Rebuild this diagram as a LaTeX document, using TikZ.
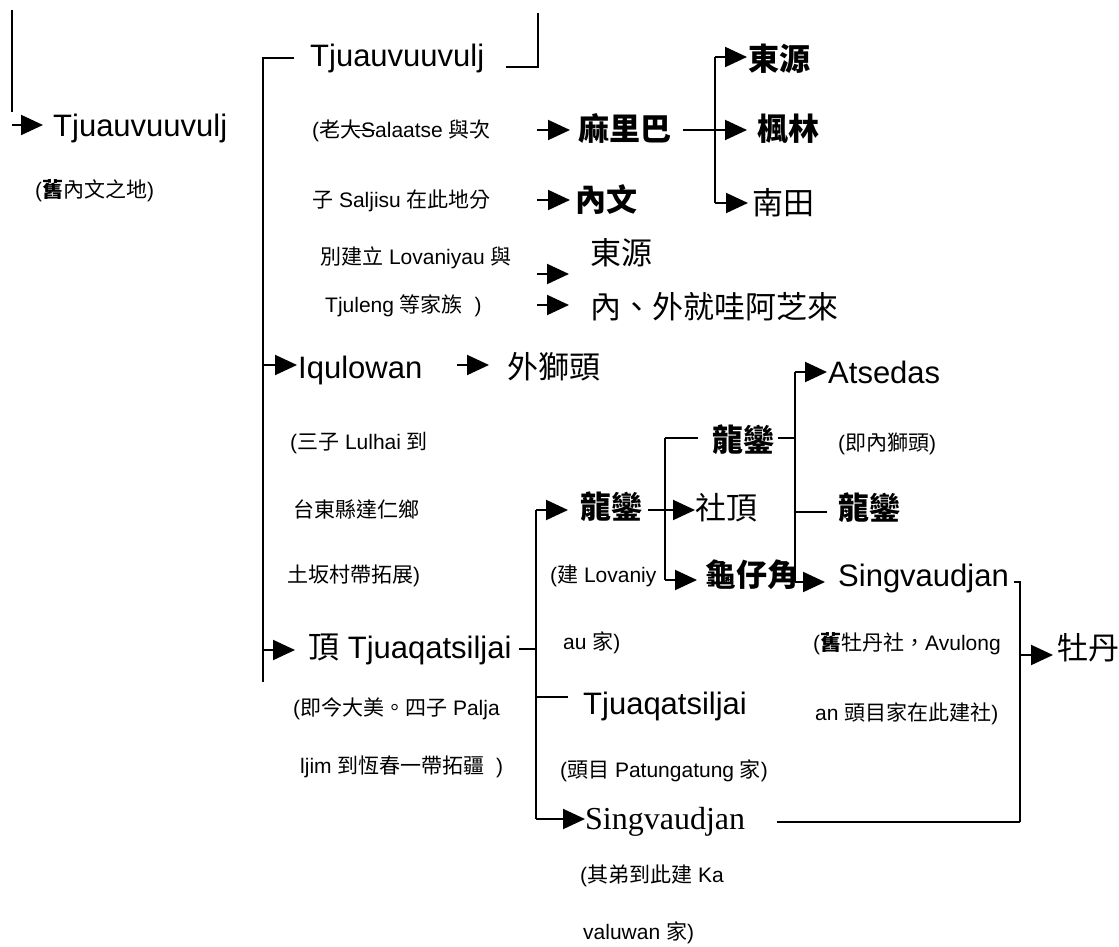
\documentclass[tikz,border=0pt]{standalone}
\usepackage{fontspec}
\setmainfont{Liberation Sans}
\newfontfamily\zh{Noto Sans CJK TC}
\newfontfamily\lserif{Liberation Serif}
\usetikzlibrary{arrows.meta}
\newcommand\strk[1]{\rlap{\kern-0.3em\rule[0.3em]{0.95em}{1.2pt}}#1}
\tikzset{
 big/.style={anchor=west, inner sep=0pt, text height=22pt, text depth=0pt, font=\fontsize{31}{31}\selectfont},
 small/.style={anchor=west, inner sep=0pt, text height=15pt, text depth=0pt, font=\fontsize{21}{21}\selectfont},
 ln/.style={line width=2pt},
 arr/.style={line width=2pt, -{Triangle[length=22pt,width=20pt]}},
}
\begin{document}
\begin{tikzpicture}[x=1pt,y=-1pt]
\useasboundingbox[fill=white] (0,0) rectangle (1119,947);

% ---------- column 1 ----------
\node[big] (root) at (53,125) {Tjuauvuuvulj};
\node[small] (rootnote) at (35,190) {({\zh\bfseries 舊}{\zh 內文之地})};
\coordinate (c1) at (12,10);
\coordinate (c2) at (12,112);
\coordinate (c3) at (12,125);
\draw[ln] (c1) -- (c2);
\draw[arr] (c3) -- ([xshift=-10pt]c3 -| root.west);

% ---------- column 2 ----------
\node[big] (t2) at (310,56) {Tjuauvuuvulj};
\coordinate (v2a) at (263,58);
\coordinate (v2b) at (263,682);
\draw[ln] ([xshift=-16pt]t2.west |- v2a) -- (v2a) -- (v2b);
\coordinate (tr0) at (538,13);
\coordinate (tr1) at (538,67);
\draw[ln] ([xshift=22pt]t2.east |- tr1) -- (tr1) -- (tr0);

\node[small] (s1) at (312,130) {({\zh 老大}\strk{Sa}laatse {\zh 與次}};
\node[small] (s2) at (312,200) {{\zh 子} Saljisu {\zh 在此地分}};
\node[small] (s3) at (320,257) {{\zh 別建立} Lovaniyau {\zh 與}};
\node[small] (s4) at (325,305) {Tjuleng {\zh 等家族}\ \ )};

\node[big] (mlb) at (578,130) {\zh\bfseries 麻里巴};
\node[big] (nw) at (575,200) {\zh\bfseries 內文};
\node[big] (dy2) at (590,253) {\zh 東源};
\node[big] (nwj) at (590,307) {\zh 內、外就哇阿芝來};

\coordinate (a1) at (537,130);
\coordinate (a2) at (537,200);
\coordinate (a3) at (537,274);
\coordinate (a4) at (537,305);
\draw[arr] (a1) -- ([xshift=-8pt]a1 -| mlb.west);
\draw[arr] (a2) -- ([xshift=-5pt]a2 -| nw.west);
\draw[arr] (a3) -- ([xshift=-21pt]a3 -| dy2.west);
\draw[arr] (a4) -- ([xshift=-21pt]a4 -| nwj.west);

\node[big] (dy1) at (748,60) {\zh\bfseries 東源};
\node[big] (fl) at (757,130) {\zh\bfseries 楓林};
\node[big] (nt) at (752,203) {\zh 南田};
\coordinate (b1t) at (715,57);
\coordinate (b1) at (715,130);
\coordinate (b1b) at (715,203);
\draw[ln] ([xshift=12pt]mlb.east |- b1) -- (b1);
\draw[ln] (b1t) -- (b1b);
\draw[arr] (b1t) -- ([xshift=-1pt]b1t -| dy1.west);
\draw[arr] (b1) -- ([xshift=-10pt]b1 -| fl.west);
\draw[arr] (b1b) -- ([xshift=-4pt]b1b -| nt.west);

\node[big] (iq) at (298,367) {Iqulowan};
\coordinate (v2iq) at (263,365);
\draw[arr] (v2iq) -- ([xshift=-1pt]v2iq -| iq.west);
\node[big] (wsh) at (507,367) {\zh 外獅頭};
\coordinate (a5) at (457,365);
\draw[arr] (a5) -- ([xshift=-18pt]a5 -| wsh.west);

\node[small] (q1) at (290,442) {({\zh 三子} Lulhai {\zh 到}};
\node[small] (q2) at (293,510) {\zh 台東縣達仁鄉};
\node[small] (q3) at (287,575) {{\zh 土坂村帶拓展})};

\node[big] (dtj) at (308,647) {{\zh 頂} Tjuaqatsiljai};
\coordinate (v2d) at (263,650);
\draw[arr] (v2d) -- ([xshift=-13pt]v2d -| dtj.west);
\node[small] (p1) at (293,708) {({\zh 即今大美。四子} Palja};
\node[small] (p2) at (300,766) {ljim {\zh 到恆春一帶拓疆}\ \ )};

% ---------- column 3 ----------
\coordinate (v3t) at (536,510);
\coordinate (v3d) at (536,649);
\coordinate (v3m) at (536,697);
\coordinate (v3b) at (536,819);
\draw[ln] (v3t) -- (v3b);
\draw[ln] ([xshift=7pt]dtj.east |- v3d) -- (v3d);

\node[big] (lb1) at (580,507) {\zh\bfseries 龍鑾};
\draw[arr] (v3t) -- ([xshift=-12pt]v3t -| lb1.west);
\node[small] (l1) at (550,575) {({\zh 建} Lovaniy};
\node[small] (l2) at (563,642) {au {\zh 家})};

\node[big] (tj2) at (583,703) {Tjuaqatsiljai};
\draw[ln] (v3m) -- ([xshift=-15pt]v3m -| tj2.west);
\node[small] (tj2n) at (560,770) {({\zh 頭目} Patungatung {\zh 家})};

\node[big, font=\fontsize{32}{32}\selectfont\lserif] (sv2) at (585,818) {Singvaudjan};
\draw[arr] (v3b) -- (v3b -| sv2.west);
\node[small] (k1) at (580,875) {({\zh 其弟到此建} Ka};
\node[small] (k2) at (583,932) {valuwan {\zh 家})};

% ---------- column 4 ----------
\coordinate (v4t) at (665,438);
\coordinate (v4m) at (665,510);
\coordinate (v4b) at (665,580);
\draw[ln] (v4t) -- (v4b);
\node[big] (sd) at (695,508) {\zh 社頂};
\node[big] (lb2) at (712,440) {\zh\bfseries 龍鑾};
\node[big] (gzj) at (705,575) {\zh\bfseries 龜仔角};
\draw[ln] ([xshift=6pt]lb1.east |- v4m) -- (v4m);
\draw[arr] (v4m) -- (v4m -| sd.west);
\draw[ln] (v4t) -- ([xshift=-14pt]v4t -| lb2.west);
\draw[arr] (v4b) -- ([xshift=-8pt]v4b -| gzj.west);

% ---------- column 5 ----------
\coordinate (v5t) at (795,372);
\coordinate (v5j) at (795,438);
\coordinate (v5m) at (795,512);
\coordinate (v5b) at (795,582);
\draw[ln] (v5t) -- (v5b);
\draw[ln] ([xshift=4pt]lb2.east |- v5j) -- (v5j);
\node[big] (ats) at (828,372) {Atsedas};
\node[small] (atsn) at (838,443) {({\zh 即內獅頭})};
\node[big] (lb3) at (838,508) {\zh\bfseries 龍鑾};
\node[big] (sg) at (838,575) {Singvaudjan};
\draw[arr] (v5t) -- ([xshift=-1pt]v5t -| ats.west);
\draw[ln] (v5m) -- ([xshift=-11pt]v5m -| lb3.west);
\draw[arr] (v5b) -- ([xshift=-13pt]v5b -| sg.west);
\node[small] (sgn1) at (813,643) {({\zh\bfseries 舊}{\zh 牡丹社，}Avulong};
\node[small] (sgn2) at (815,713) {an {\zh 頭目家在此建社})};

% ---------- column 6 ----------
\coordinate (v6t) at (1020,582);
\coordinate (v6m) at (1020,655);
\coordinate (v6b) at (1020,822);
\draw[ln] ([xshift=5pt]sg.east |- v6t) -- (v6t) -- (v6b);
\draw[ln] ([xshift=32pt]sv2.east |- v6b) -- (v6b);
\node[big] (md) at (1057,648) {\zh 牡丹};
\draw[arr] (v6m) -- ([xshift=-4pt]v6m -| md.west);
\end{tikzpicture}
\end{document}
